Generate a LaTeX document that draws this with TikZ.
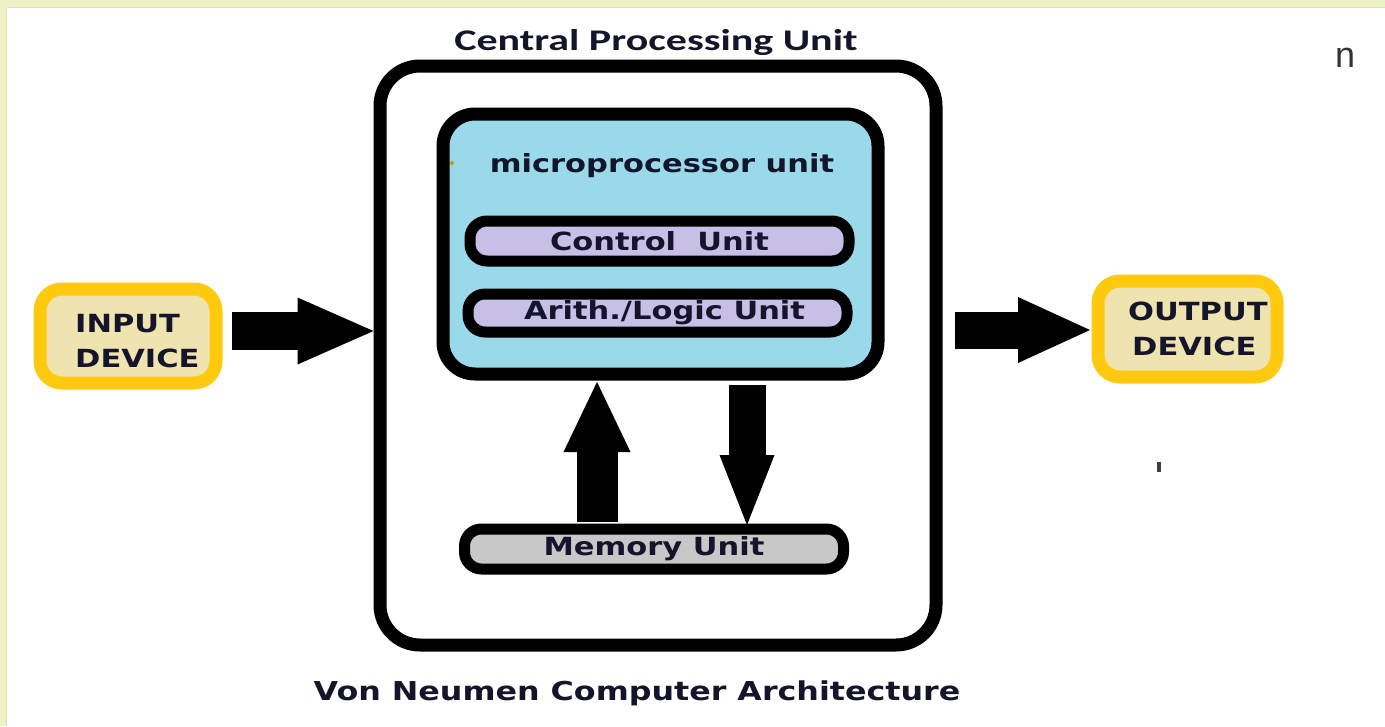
\documentclass[tikz,border=0pt]{standalone}
\usepackage{fontspec}
\usetikzlibrary{arrows.meta,calc}
\newfontfamily\headfont{Carlito}[FakeStretch=1.4]
\newfontfamily\bodyfont{DejaVu Sans}[FakeStretch=1.22]
\newfontfamily\markfont{Liberation Sans}
\definecolor{cream}{HTML}{EEF2C6}
\definecolor{creamedge}{HTML}{E2E6B6}
\definecolor{ink}{HTML}{14142A}
\definecolor{turq}{HTML}{99D9EA}
\definecolor{lavender}{HTML}{C8BFE7}
\definecolor{memgray}{HTML}{C8C8C8}
\definecolor{gold}{HTML}{FFC90E}
\definecolor{paleyellow}{HTML}{EFE4B0}
\tikzset{
  bodytext/.style={font=\bodyfont\bfseries\fontsize{25}{30}\selectfont, text=ink, inner sep=0pt},
  unitbox/.style={draw=black, line width=11pt, rounded corners=17pt,
    minimum width=379pt, minimum height=40pt, inner sep=0pt, bodytext},
  iobox/.style={draw=gold, fill=paleyellow, line width=13pt, rounded corners=22pt, inner sep=0pt},
  blockarrow/.style n args={3}{draw=black, line width=#1, line cap=butt,
    -{Triangle[length=#3, width=#2, line width=0pt]}},
}
\begin{document}
\begin{tikzpicture}[x=1pt,y=-1pt]
\useasboundingbox (0,0) rectangle (1385,726);
% page and frame bands
\fill[white] (0,0) rectangle (1385,726);
\fill[cream] (0,0) rectangle (1385,8);
\fill[cream] (0,0) rectangle (7,726);
\fill[creamedge] (7,6.5) rectangle (1385,8);
\fill[creamedge] (5.5,8) rectangle (7,726);

% CPU frame and microprocessor
\node[draw=black, line width=13pt, rounded corners=40pt, minimum width=556pt, minimum height=579pt]
  (cpu) at (658,355.5) {};
\node[draw=black, fill=turq, line width=13pt, rounded corners=32pt, minimum width=435pt, minimum height=260pt]
  (micro) at (660.5,244) {};
\node[bodytext, anchor=base] (microlbl) at (662,172) {microprocessor unit};
\fill[olive!70!yellow] (452,163) circle (2);

\node[unitbox, fill=lavender] (cu) at (659.5,241) {Control\ \ Unit};
\node[unitbox, fill=lavender, minimum height=38pt] (alu) at (657.5,313) {\hspace{14pt}Arith./Logic Unit};
\node[unitbox, fill=memgray] (mem) at (654,549) {Memory Unit};

% input and output devices
\node[iobox, minimum width=176pt, minimum height=94pt] (inbox) at (128,336) {};
\node[bodytext, anchor=base west] (inl1) at (75,332) {INPUT};
\node[bodytext, anchor=base west] (inl2) at (75,367) {DEVICE};
\node[iobox, minimum width=179pt, minimum height=96pt] (outbox) at (1187.5,329) {};
\node[bodytext, anchor=base west] (outl1) at (1128,320) {OUTPUT};
\node[bodytext, anchor=base west] (outl2) at (1132,355) {DEVICE};

% titles
\node[font=\headfont\bfseries\fontsize{30}{36}\selectfont, text=ink, anchor=base] (title) at (656,50) {Central Processing Unit};
\node[bodytext, font=\bodyfont\bfseries\fontsize{26}{30}\selectfont, anchor=base] (caption) at (637,700) {Von Neumen Computer Architecture};
\node[font=\markfont\fontsize{36}{40}\selectfont, text=black!80, anchor=base] (nmark) at (1345,67) {n};
\fill[black!75] (1157,462) rectangle (1161,472);

% data flow
\coordinate (inA) at ($(inbox.east)+(9.5,-5)$);
\coordinate (inB) at (cpu.west |- inA);
\draw[blockarrow={38pt}{67pt}{76pt}] (inA) -- (inB);

\coordinate (outA) at ($(cpu.east |- outbox.west)+(12.5,1)$);
\coordinate (outB) at ($(outbox.west)+(-1.5,1)$);
\draw[blockarrow={37pt}{66pt}{72pt}] (outA) -- (outB);

\coordinate (upA) at ($(mem.north)+(-57,-1.5)$);
\coordinate (upB) at ($(upA |- micro.south)+(0,1.5)$);
\draw[blockarrow={41pt}{67pt}{70pt}] (upA) -- (upB);

\coordinate (dnA) at (mem.north -| 747,0);
\coordinate (dnTop) at ($(dnA |- micro.south)+(0,4.5)$);
\coordinate (dnBot) at ($(dnA |- mem.north)+(0,1.5)$);
\draw[blockarrow={37pt}{55pt}{70pt}] (dnTop) -- (dnBot);
\end{tikzpicture}
\end{document}
